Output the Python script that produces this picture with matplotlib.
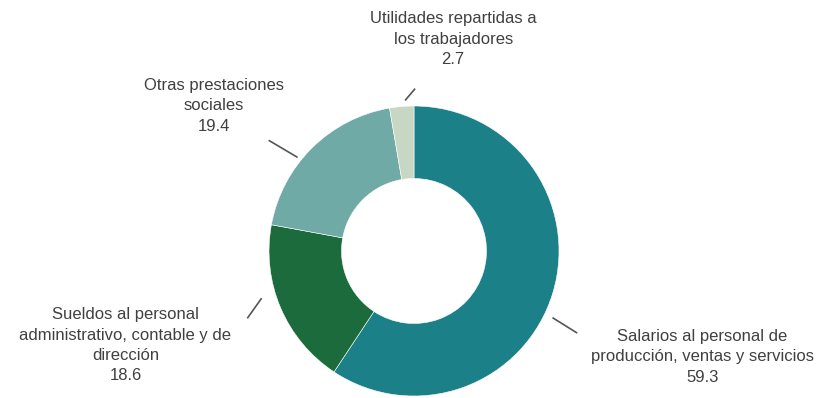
import numpy as np
import matplotlib.pyplot as plt

plt.rcParams['font.family'] = ['Liberation Sans', 'DejaVu Sans']

# participación por concepto (%)
categorias = [
    'Salarios al personal de\nproducción, ventas y servicios',
    'Sueldos al personal\nadministrativo, contable y de\ndirección',
    'Otras prestaciones\nsociales',
    'Utilidades repartidas a\nlos trabajadores',
]
valores = [59.3, 18.6, 19.4, 2.7]
colores = ['#1b8087', '#1c6b3c', '#70aaa6', '#c8d7c4']

# posición del texto de cada etiqueta (unidades del radio)
pos_etiquetas = [(1.99, -0.73), (-1.99, -0.65), (-1.38, 1.00), (0.27, 1.46)]
# líneas guía: (ángulo, radio) de cada extremo
guias = [((-25.7, 1.06), (-26.7, 1.26)),
         ((197.2, 1.10), (202.0, 1.24)),
         ((141.2, 1.03), (142.7, 1.26)),
         ((93.4, 1.04), (89.6, 1.12))]

fig = plt.figure(figsize=(8.23, 3.98), dpi=100)
ax = fig.add_axes([0, 0, 1, 1])

ax.pie(valores, colors=colores, startangle=90, counterclock=False,
       radius=1.0, wedgeprops=dict(width=0.5, edgecolor='white', linewidth=0.4))

for (a0, r0), (a1, r1) in guias:
    xs = [r0 * np.cos(np.radians(a0)), r1 * np.cos(np.radians(a1))]
    ys = [r0 * np.sin(np.radians(a0)), r1 * np.sin(np.radians(a1))]
    ax.plot(xs, ys, color='#555555', linewidth=1.2, solid_capstyle='butt')

for cat, val, (x, y) in zip(categorias, valores, pos_etiquetas):
    ax.text(x, y, f'{cat}\n{val}', ha='center', va='center',
            fontsize=12, color='#404040', linespacing=1.45)

ax.set_xlim(-414 / 145, (823 - 414) / 145)
ax.set_ylim(-147 / 145, 251 / 145)
ax.set_aspect('auto')
ax.axis('off')

fig.savefig('out.png', dpi=100, facecolor='white')
